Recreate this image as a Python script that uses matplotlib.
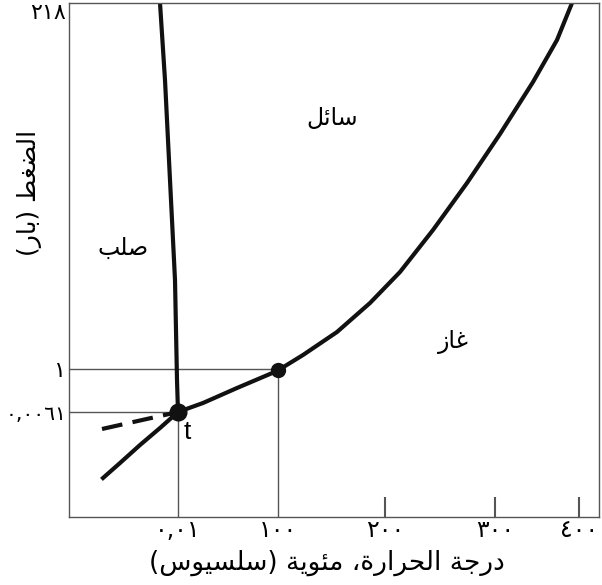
import matplotlib
matplotlib.use("Agg")
import matplotlib.pyplot as plt

# schematic phase diagram of water, positions
# (x to the right, y downwards from the top of the frame, in pixels)
x_ticks = [178, 278, 385, 495, 579]
x_labels = ["٠,٠١", "١٠٠", "٢٠٠", "٣٠٠", "٤٠٠"]
y_ticks = [3, 369, 412]
y_labels = ["٢١٨", "١", "٠,٠٠٦١"]

melt_x = [160, 165, 170, 175, 177, 178]
melt_y = [3, 80, 180, 280, 380, 412]

vap_x = [103, 120, 140, 160, 178, 203, 237, 277, 303, 337, 370, 400, 433, 467, 500, 533, 557, 572]
vap_y = [478, 463, 445, 428, 412, 403, 388, 371, 355, 332, 303, 272, 230, 183, 134, 82, 40, 3]

sub_x = [102, 178]
sub_y = [429, 412]

triple = (178, 412)
boiling = (278, 370)

# minimal arabic shaping (matplotlib 3.10 does no shaping or bidi)
FORMS = {
    "ا": (0xFE8D, 0xFE8E, None, None), "ب": (0xFE8F, 0xFE90, 0xFE91, 0xFE92),
    "ة": (0xFE93, 0xFE94, None, None), "ج": (0xFE9D, 0xFE9E, 0xFE9F, 0xFEA0),
    "ح": (0xFEA1, 0xFEA2, 0xFEA3, 0xFEA4), "د": (0xFEA9, 0xFEAA, None, None),
    "ر": (0xFEAD, 0xFEAE, None, None), "ز": (0xFEAF, 0xFEB0, None, None),
    "س": (0xFEB1, 0xFEB2, 0xFEB3, 0xFEB4), "ص": (0xFEB9, 0xFEBA, 0xFEBB, 0xFEBC),
    "ض": (0xFEBD, 0xFEBE, 0xFEBF, 0xFEC0), "ط": (0xFEC1, 0xFEC2, 0xFEC3, 0xFEC4),
    "غ": (0xFECD, 0xFECE, 0xFECF, 0xFED0), "ل": (0xFEDD, 0xFEDE, 0xFEDF, 0xFEE0),
    "م": (0xFEE1, 0xFEE2, 0xFEE3, 0xFEE4), "و": (0xFEED, 0xFEEE, None, None),
    "ي": (0xFEF1, 0xFEF2, 0xFEF3, 0xFEF4), "ئ": (0xFE89, 0xFE8A, 0xFE8B, 0xFE8C),
}


def shape(s):
    out = []
    for i, c in enumerate(s):
        if c not in FORMS:
            out.append(c)
            continue
        prev = s[i - 1] if i > 0 else ""
        nxt = s[i + 1] if i + 1 < len(s) else ""
        joins_prev = prev in FORMS and FORMS[prev][2] is not None
        joins_next = nxt in FORMS and FORMS[c][2] is not None
        f = FORMS[c]
        if joins_prev and joins_next:
            code = f[3]
        elif joins_prev:
            code = f[1]
        elif joins_next:
            code = f[2]
        else:
            code = f[0]
        out.append(chr(code))
    vis = "".join(reversed(out))
    return vis.translate(str.maketrans("()", ")("))


fig = plt.figure(figsize=(6.02, 5.85), dpi=100)
ax = fig.add_axes([69 / 602, 68 / 585, 530 / 602, 514 / 585])
ax.set_xlim(69, 599)
ax.set_ylim(517, 3)

grey = "#555555"
ax.vlines([x_ticks[0]], triple[1], 517, color=grey, lw=1)
ax.vlines([x_ticks[1]], boiling[1], 517, color=grey, lw=1)
ax.vlines(x_ticks[2:], 497, 517, color=grey, lw=1.5)
ax.hlines([y_ticks[1]], 69, boiling[0], color=grey, lw=1)
ax.hlines([y_ticks[2]], 69, triple[0], color=grey, lw=1)

ax.plot(melt_x, melt_y, color="#111111", lw=3, solid_joinstyle="round")
ax.plot(vap_x, vap_y, color="#111111", lw=3, solid_joinstyle="round")
ax.plot(sub_x, sub_y, color="#111111", lw=3, dashes=(5, 2.5))
ax.plot(*triple, "o", color="#111111", ms=12)
ax.plot(*boiling, "o", color="#111111", ms=10)

ax.text(332, 118, shape("سائل"), fontsize=17, ha="center", va="center")
ax.text(123, 248, shape("صلب"), fontsize=17, ha="center", va="center")
ax.text(453, 342, shape("غاز"), fontsize=17, ha="center", va="center")
ax.text(187, 432, "t", fontsize=19, ha="center", va="center", family="Liberation Sans")

ax.set_xticks(x_ticks)
ax.set_xticklabels(x_labels, fontsize=17)
ax.set_yticks(y_ticks)
ax.set_yticklabels(y_labels, fontsize=16)
ax.get_yticklabels()[0].set_va("top")
ax.get_yticklabels()[2].set_fontsize(14.5)
ax.tick_params(length=0)
ax.tick_params(axis="y", pad=2)
ax.tick_params(axis="x", pad=1)
for s in ax.spines.values():
    s.set_color(grey)
    s.set_linewidth(1)

fig.text(327 / 602, 1 - 563 / 585, shape("درجة الحرارة، مئوية (سلسيوس)"), fontsize=19,
         ha="center", va="center")
fig.text(30 / 602, 1 - 193 / 585, shape("الضغط (بار)"), fontsize=18,
         rotation=90, ha="center", va="center")

fig.savefig("out.png", dpi=100)
